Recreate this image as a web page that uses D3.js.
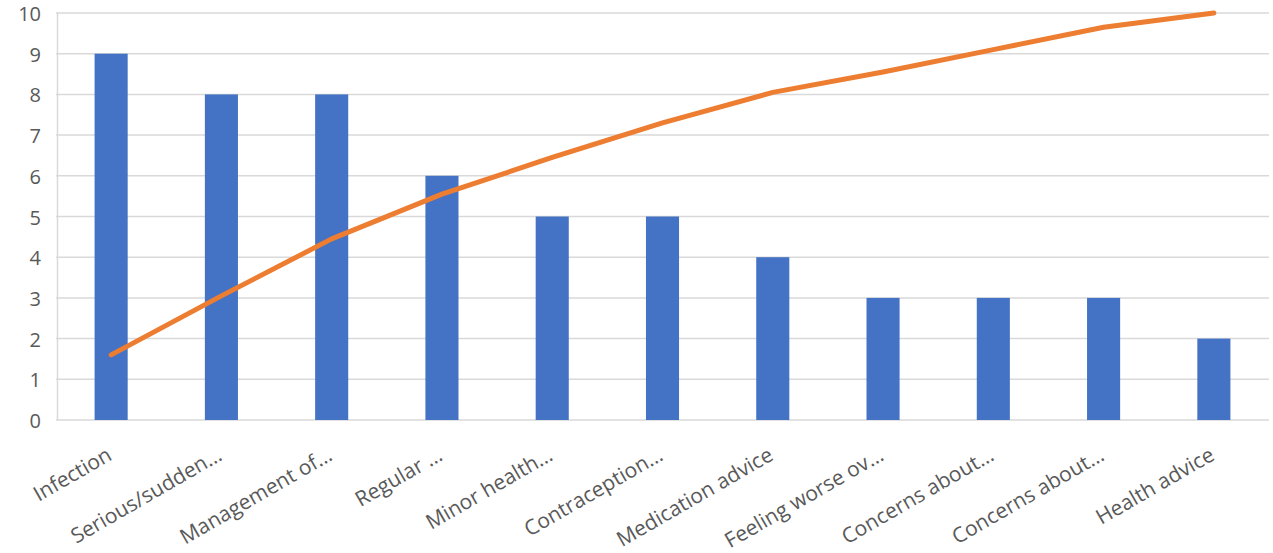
<!DOCTYPE html>
<html>
<head>
<meta charset="utf-8">
<script src="https://cdn.jsdelivr.net/npm/d3@7"></script>
<style>
  body { margin: 0; background: #fff; }
  svg text { font-family: "Open Sans", "Noto Sans", sans-serif; fill: #595959; }
</style>
</head>
<body>
<div id="chart"></div>
<script>
var categories = ["Infection", "Serious/sudden…", "Management of…", "Regular …", "Minor health…",
    "Contraception…", "Medication advice", "Feeling worse ov…", "Concerns about…", "Concerns about…", "Health advice"];
var counts = [9, 8, 8, 6, 5, 5, 4, 3, 3, 3, 2];
var cumulative = [1.6, 3.05, 4.45, 5.55, 6.45, 7.3, 8.05, 8.55, 9.1, 9.65, 10];
var yTicks = [0, 1, 2, 3, 4, 5, 6, 7, 8, 9, 10];

var width = 1273, height = 553;
var margin = { left: 56, right: 4, top: 13, bottom: 133 };

var svg = d3.select("#chart").append("svg")
    .attr("width", width)
    .attr("height", height);

var x = d3.scaleBand()
    .domain(d3.range(categories.length))
    .range([margin.left, width - margin.right])
    .paddingInner(0.7)
    .paddingOuter(0.35);

var y = d3.scaleLinear()
    .domain([0, 10])
    .range([height - margin.bottom, margin.top]);

// gridlines
svg.append("g")
    .selectAll("line")
    .data(yTicks)
    .enter().append("line")
    .attr("x1", margin.left)
    .attr("x2", width - margin.right)
    .attr("y1", d => y(d))
    .attr("y2", d => y(d))
    .style("stroke", "#d9d9d9")
    .style("stroke-width", 1.5);

// left axis line
svg.append("line")
    .attr("x1", margin.left + 1.5).attr("x2", margin.left + 1.5)
    .attr("y1", y(10)).attr("y2", y(0))
    .style("stroke", "#d9d9d9")
    .style("stroke-width", 1.5);

// y tick labels
svg.append("g")
    .selectAll("text")
    .data(yTicks)
    .enter().append("text")
    .attr("x", 41)
    .attr("y", d => y(d) + 1)
    .attr("dy", "0.35em")
    .attr("text-anchor", "end")
    .style("font-size", "20px")
    .text(d => d);

// bars
svg.append("g")
    .selectAll("rect")
    .data(counts)
    .enter().append("rect")
    .attr("x", (d, i) => x(i))
    .attr("width", x.bandwidth())
    .attr("y", d => y(d))
    .attr("height", d => y(0) - y(d))
    .style("fill", "#4472C4");

// cumulative line
var line = d3.line()
    .x((d, i) => x(i) + x.bandwidth() / 2)
    .y(d => y(d));

svg.append("path")
    .datum(cumulative)
    .attr("d", line)
    .style("fill", "none")
    .style("stroke", "#ED7D31")
    .style("stroke-width", 5)
    .style("stroke-linecap", "round")
    .style("stroke-linejoin", "round");

// x labels
svg.append("g")
    .selectAll("text")
    .data(categories)
    .enter().append("text")
    .attr("text-anchor", "end")
    .attr("transform", (d, i) => "translate(" + (x(i) + x.bandwidth() / 2 + 2) + "," + 459 + ") rotate(-30)")
    .style("font-size", "21px")
    .text(d => d);
</script>
</body>
</html>
